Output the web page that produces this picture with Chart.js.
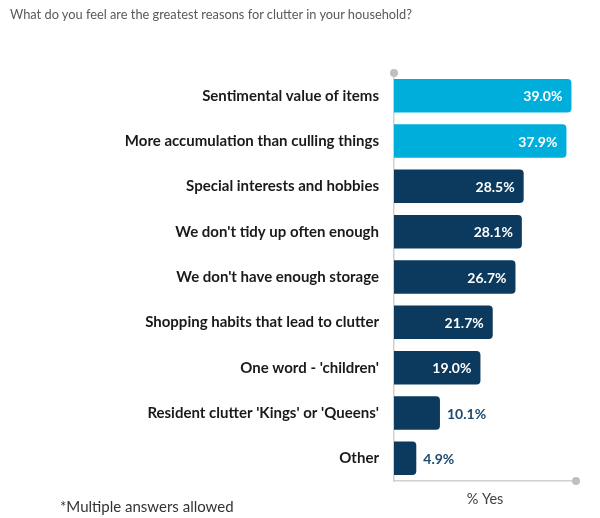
<!DOCTYPE html>
<html>
<head>
<meta charset="utf-8">
<script src="https://cdn.jsdelivr.net/npm/chart.js@4"></script>
<style>
  html, body { margin: 0; padding: 0; background: #fff; }
  #wrap { position: relative; width: 600px; height: 518px; }
  #chart { position: absolute; left: 0; top: 0; }
  .title { position: absolute; left: 10px; top: 6px; font: 12.8px Lato, sans-serif; color: #595959; white-space: nowrap; }
  .note { position: absolute; left: 60px; top: 497px; font: 15px Lato, sans-serif; color: #333; white-space: nowrap; }
</style>
</head>
<body>
<div id="wrap">
  <canvas id="chart" width="600" height="518"></canvas>
  <div class="title">What do you feel are the greatest reasons for clutter in your household?</div>
  <div class="note">*Multiple answers allowed</div>
</div>
<script>
const categories = [
  'Sentimental value of items',
  'More accumulation than culling things',
  'Special interests and hobbies',
  "We don't tidy up often enough",
  "We don't have enough storage",
  'Shopping habits that lead to clutter',
  "One word - 'children'",
  "Resident clutter 'Kings' or 'Queens'",
  'Other'
];
const values = [39.0, 37.9, 28.5, 28.1, 26.7, 21.7, 19.0, 10.1, 4.9];
const highlighted = [true, true, false, false, false, false, false, false, false];

const LIGHT = '#00aedb';
const NAVY = '#0b3a5e';

// value labels at the end of each bar
const valueLabels = {
  id: 'valueLabels',
  afterDatasetsDraw(chart) {
    const ctx = chart.ctx;
    const meta = chart.getDatasetMeta(0);
    ctx.save();
    ctx.font = 'bold 14px Lato, sans-serif';
    ctx.textBaseline = 'middle';
    meta.data.forEach((bar, i) => {
      const txt = values[i].toFixed(1) + '%';
      if (values[i] > 15) {
        ctx.fillStyle = '#fff';
        ctx.textAlign = 'right';
        ctx.fillText(txt, bar.x - 9, bar.y + 1);
      } else {
        ctx.fillStyle = '#1b4a70';
        ctx.textAlign = 'left';
        ctx.fillText(txt, bar.x + 7, bar.y + 1);
      }
    });
    ctx.restore();
  }
};

// grey dots at the ends of the axis lines
const axisDots = {
  id: 'axisDots',
  afterDraw(chart) {
    const { ctx, chartArea: a } = chart;
    ctx.save();
    ctx.fillStyle = '#bfbfbf';
    [[a.left, a.top], [a.right, a.bottom]].forEach(([x, y]) => {
      ctx.beginPath();
      ctx.arc(x, y, 4, 0, Math.PI * 2);
      ctx.fill();
    });
    ctx.restore();
  }
};

new Chart(document.getElementById('chart'), {
  type: 'bar',
  data: {
    labels: categories,
    datasets: [{
      data: values,
      backgroundColor: highlighted.map(h => h ? LIGHT : NAVY),
      borderRadius: 4,
      categoryPercentage: 1,
      barPercentage: 0.74
    }]
  },
  options: {
    indexAxis: 'y',
    responsive: false,
    animation: false,
    layout: { padding: { top: 73, right: 24, left: 0, bottom: 0 } },
    plugins: {
      legend: { display: false },
      tooltip: { enabled: false }
    },
    scales: {
      x: {
        min: 0,
        max: 40,
        grid: { display: false, drawTicks: false },
        border: { display: true, color: '#d0d0d0', width: 1.5 },
        ticks: { display: false },
        title: {
          display: true,
          text: '% Yes',
          color: '#404040',
          font: { family: 'Lato, sans-serif', size: 14.5 },
          padding: { top: 0, bottom: 10 }
        },
        afterFit(s) { s.height = 37; }
      },
      y: {
        grid: { display: false, drawTicks: false },
        border: { display: true, color: '#d0d0d0', width: 1.5 },
        ticks: {
          color: '#1a1a1a',
          padding: 15,
          font: { family: 'Lato, sans-serif', size: 15, weight: 'bold' }
        },
        afterFit(s) { s.width = 394; }
      }
    }
  },
  plugins: [valueLabels, axisDots]
});
</script>
</body>
</html>
